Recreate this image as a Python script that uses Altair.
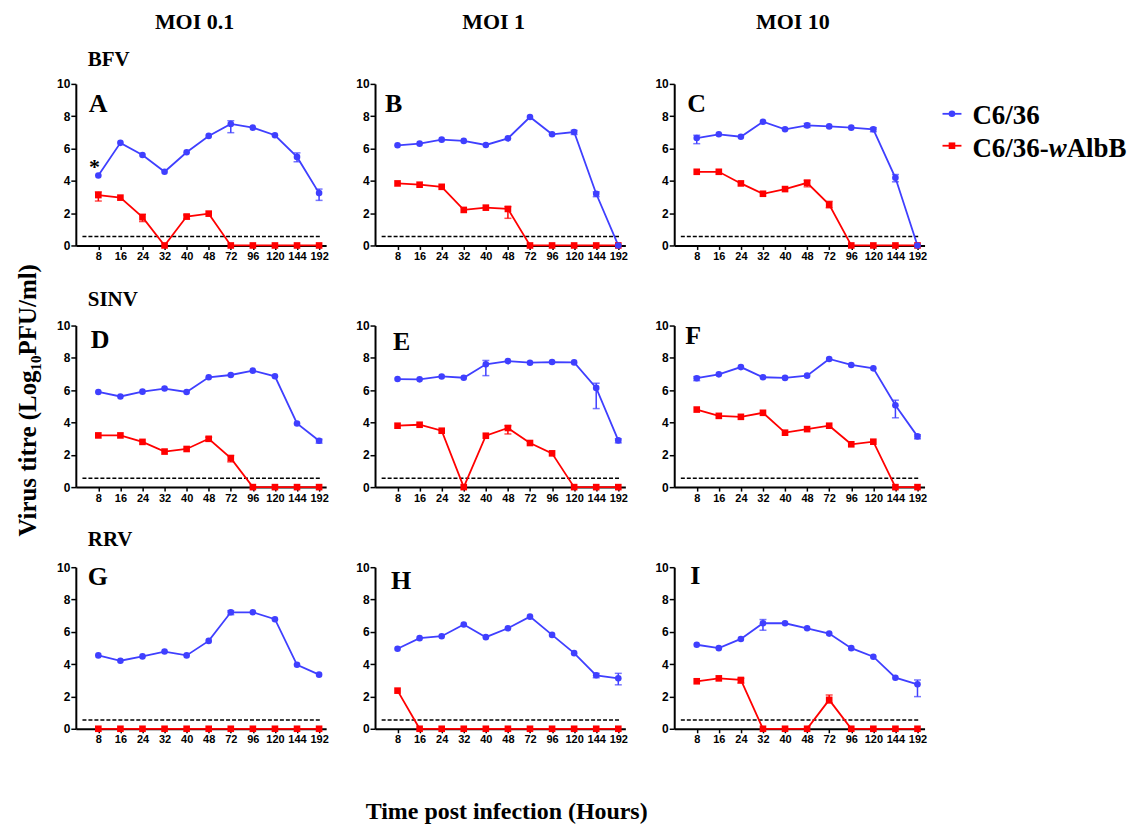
import altair as alt
import pandas as pd

HOURS = ["8", "16", "24", "32", "40", "48", "72", "96", "120", "144", "192"]
SERIES = ["C6/36", "C6/36-wAlbB"]
COLORS = ["#3f3fff", "#ff0000"]
MOI = ["MOI 0.1", "MOI 1", "MOI 10"]
VIRUS = ["BFV", "SINV", "RRV"]

A_C636 = [4.33, 6.35, 5.60, 4.56, 5.77, 6.78, 7.52, 7.29, 6.82, 5.48, 3.24]
A_WALBB = [3.12, 2.96, 1.75, 0.0, 1.79, 1.97, 0.0, 0.0, 0.0, 0.0, 0.0]
B_C636 = [6.20, 6.30, 6.55, 6.47, 6.22, 6.63, 7.95, 6.88, 7.02, 3.20, 0.0]
B_WALBB = [3.84, 3.76, 3.63, 2.20, 2.34, 2.26, 0.0, 0.0, 0.0, 0.0, 0.0]
C_C636 = [6.65, 6.88, 6.73, 7.66, 7.19, 7.43, 7.37, 7.29, 7.19, 4.19, 0.0]
C_WALBB = [4.56, 4.56, 3.84, 3.20, 3.49, 3.88, 2.53, 0.0, 0.0, 0.0, 0.0]
D_C636 = [5.89, 5.61, 5.91, 6.10, 5.89, 6.80, 6.94, 7.21, 6.86, 3.94, 2.87]
D_WALBB = [3.20, 3.20, 2.80, 2.20, 2.36, 2.99, 1.79, 0.0, 0.0, 0.0, 0.0]
E_C636 = [6.69, 6.67, 6.85, 6.77, 7.60, 7.80, 7.70, 7.74, 7.72, 6.14, 2.89]
E_WALBB = [3.80, 3.86, 3.49, 0.0, 3.18, 3.66, 2.73, 2.09, 0.0, 0.0, 0.0]
F_C636 = [6.74, 6.98, 7.43, 6.80, 6.76, 6.90, 7.93, 7.56, 7.35, 5.07, 3.14]
F_WALBB = [4.80, 4.41, 4.35, 4.60, 3.37, 3.59, 3.80, 2.65, 2.81, 0.0, 0.0]
G_C636 = [4.54, 4.21, 4.48, 4.78, 4.54, 5.44, 7.21, 7.21, 6.78, 3.96, 3.35]
G_WALBB = [0.0, 0.0, 0.0, 0.0, 0.0, 0.0, 0.0, 0.0, 0.0, 0.0, 0.0]
H_C636 = [4.95, 5.61, 5.73, 6.45, 5.67, 6.22, 6.94, 5.81, 4.68, 3.31, 3.12]
H_WALBB = [2.36, 0.0, 0.0, 0.0, 0.0, 0.0, 0.0, 0.0, 0.0, 0.0, 0.0]
I_C636 = [5.20, 4.99, 5.56, 6.53, 6.53, 6.22, 5.89, 4.99, 4.46, 3.16, 2.75]
I_WALBB = [2.94, 3.12, 3.02, 0.0, 0.0, 0.0, 1.79, 0.0, 0.0, 0.0, 0.0]

# error bars: (panel, series index, time index) -> (down, up)
ERRORS = {
    ("A", 0, 6): (0.54, 0.20), ("A", 0, 9): (0.30, 0.25), ("A", 0, 10): (0.45, 0.25),
    ("A", 1, 0): (0.37, 0.20), ("A", 1, 2): (0.27, 0.18), ("A", 1, 4): (0.15, 0.10),
    ("B", 0, 8): (0.15, 0.10), ("B", 0, 9): (0.18, 0.12), ("B", 1, 5): (0.58, 0.14),
    ("C", 0, 0): (0.35, 0.17), ("C", 0, 5): (0.12, 0.12), ("C", 0, 8): (0.15, 0.10),
    ("C", 0, 9): (0.25, 0.20), ("C", 1, 5): (0.25, 0.15), ("C", 1, 6): (0.20, 0.20),
    ("D", 0, 10): (0.15, 0.10), ("D", 1, 5): (0.15, 0.10), ("D", 1, 6): (0.23, 0.17),
    ("E", 0, 4): (0.70, 0.24), ("E", 0, 9): (1.28, 0.29), ("E", 0, 10): (0.15, 0.10),
    ("E", 1, 5): (0.37, 0.14),
    ("F", 0, 0): (0.15, 0.10), ("F", 0, 9): (0.78, 0.31), ("F", 0, 10): (0.15, 0.10),
    ("G", 0, 6): (0.15, 0.10),
    ("H", 0, 9): (0.15, 0.12), ("H", 0, 10): (0.40, 0.31),
    ("I", 0, 3): (0.43, 0.23), ("I", 0, 10): (0.76, 0.27),
    ("I", 1, 2): (0.20, 0.10), ("I", 1, 6): (0.20, 0.30),
}

PANELS = {
    "A": (A_C636, A_WALBB), "B": (B_C636, B_WALBB), "C": (C_C636, C_WALBB),
    "D": (D_C636, D_WALBB), "E": (E_C636, E_WALBB), "F": (F_C636, F_WALBB),
    "G": (G_C636, G_WALBB), "H": (H_C636, H_WALBB), "I": (I_C636, I_WALBB),
}
LETTER_POS = {"A": (13, 28), "B": (10, 28), "C": (13, 28), "D": (15, 23), "E": (18, 25),
              "F": (11, 19), "G": (12, 18), "H": (16, 22), "I": (16, 17)}
DETECTION_LIMIT = 0.55

W, H = 251, 162
SERIF = "Liberation Serif"
SANS = "Liberation Sans"

rows = []
for key, (blue, red) in PANELS.items():
    for s_i, vals in ((1, red), (0, blue)):
        for t_i, v in enumerate(vals):
            dn, up = ERRORS.get((key, s_i, t_i), (None, None))
            rows.append({"panel": key, "series": SERIES[s_i], "order": 1 - s_i, "idx": t_i,
                         "value": v,
                         "lo": v - dn if dn is not None else None,
                         "hi": v + up if up is not None else None})
df = pd.DataFrame(rows)
one = pd.DataFrame({"a": [0]})

label_expr = "[" + ",".join("'%s'" % h for h in HOURS) + "][datum.value]"
XAX = alt.Axis(values=list(range(11)), labelExpr=label_expr, title=None, grid=False,
               labelOverlap=False, labelFlush=False)
YAX = alt.Axis(values=[0, 2, 4, 6, 8, 10], title=None, grid=False,
               labelOverlap=False, labelFlush=False)
XS = alt.Scale(domain=[-1.02, 10.32], nice=False, zero=False)
YS = alt.Scale(domain=[0, 10], nice=False)
X = alt.X("idx:Q", scale=XS, axis=XAX)
Y = alt.Y("value:Q", scale=YS, axis=YAX)
color = alt.Color("series:N", scale=alt.Scale(domain=SERIES, range=COLORS), legend=None)
shape = alt.Shape("series:N", scale=alt.Scale(domain=SERIES, range=["circle", "square"]), legend=None)


def text_layer(txt, x, y, size, align="left", baseline="alphabetic", angle=0, style="normal"):
    return alt.Chart(one).mark_text(text=txt, font=SERIF, fontWeight="bold", fontSize=size,
                                    align=align, baseline=baseline, angle=angle,
                                    fontStyle=style, color="black").encode(
        x=alt.value(x), y=alt.value(y))


def panel(key, extras):
    d = df[df.panel == key]
    base = alt.Chart(d)
    dash = alt.Chart(one).mark_rule(strokeDash=[4, 2], color="black", strokeWidth=1.5).encode(
        x=alt.X(datum=-0.72, scale=XS, axis=XAX), x2=alt.datum(10.08),
        y=alt.Y(datum=DETECTION_LIMIT, scale=YS, axis=YAX))
    de = d.dropna(subset=["lo"])
    layers = [dash]
    if len(de):
        eb = alt.Chart(de)
        layers += [
            eb.mark_rule(strokeWidth=1.5).encode(x=X, y=alt.Y("lo:Q", scale=YS, axis=YAX), y2="hi:Q", color=color),
            eb.mark_tick(orient="horizontal", size=7, thickness=1.5).encode(
                x=X, y=alt.Y("lo:Q", scale=YS, axis=YAX), color=color),
            eb.mark_tick(orient="horizontal", size=7, thickness=1.5).encode(
                x=X, y=alt.Y("hi:Q", scale=YS, axis=YAX), color=color),
        ]
    layers += [
        base.mark_line(strokeWidth=1.8).encode(x=X, y=Y, color=color, detail="series:N",
                                               order="idx:Q"),
        base.mark_point(filled=True, opacity=1, size=44).encode(x=X, y=Y, color=color, shape=shape,
                                                                order="order:Q"),
    ]
    dx, dy = LETTER_POS[key]
    layers.append(text_layer(key, dx, dy, 26))
    layers += extras
    return alt.layer(*layers).properties(width=W, height=H)


extras = {k: [] for k in PANELS}
for k, m in zip(["A", "B", "C"], MOI):
    extras[k].append(text_layer(m, 119, -62, 22, align="center", baseline="middle"))
for k, v, dy in zip(["A", "D", "G"], VIRUS, [-24, -26, -27]):
    extras[k].append(text_layer(v, 12, dy, 21, baseline="middle"))

# asterisk in panel A
extras["A"].append(alt.Chart(one).mark_text(text="*", font=SERIF, fontWeight="bold", fontSize=22,
                                            color="black").encode(
    x=alt.X(datum=-0.18, scale=XS, axis=XAX), y=alt.Y(datum=4.87, scale=YS, axis=YAX)))

# legend in panel C
for s, c, shp, yy in zip(SERIES, COLORS, ["circle", "square"], [30, 62]):
    extras["C"].append(alt.Chart(one).mark_rule(color=c, strokeWidth=1.8).encode(
        x=alt.value(269), x2=alt.value(288), y=alt.value(yy)))
    extras["C"].append(alt.Chart(one).mark_point(filled=True, opacity=1, size=44, shape=shp, color=c).encode(
        x=alt.value(278.5), y=alt.value(yy)))
extras["C"].append(text_layer("C6/36", 299, 40, 27))
extras["C"].append(text_layer("C6/36-", 299, 73, 27))
extras["C"].append(text_layer("w", 299 + 76.5, 73, 27, style="italic"))
extras["C"].append(text_layer("AlbB", 299 + 76.5 + 18, 73, 27))

# axis titles
extras["D"].append(text_layer("Virus titre (Log₁₀PFU/ml)", -48, 75, 25, align="center",
                              baseline="middle", angle=270))
extras["H"].append(text_layer("Time post infection (Hours)", 132, 245, 24, align="center",
                              baseline="middle"))

P = [panel(k, extras[k]) for k in PANELS]
chart = alt.concat(*P, columns=3, spacing={"row": 80.3, "column": 49}, bounds="flush").properties(
    padding={"left": 7, "top": 2, "right": 5, "bottom": 5}
).configure_view(stroke=None).configure_axis(
    domainColor="black", domainWidth=2, tickColor="black", tickWidth=1.5, tickSize=5,
    labelFont=SANS, labelFontWeight="bold", labelColor="black", grid=False,
    labelOverlap=False, labelFlush=False
).configure_axisX(labelFontSize=11, labelPadding=1, tickSize=4).configure_axisY(
    labelFontSize=12, labelPadding=1)

chart.save("out.html", embed_options={"renderer": "svg", "actions": False})
